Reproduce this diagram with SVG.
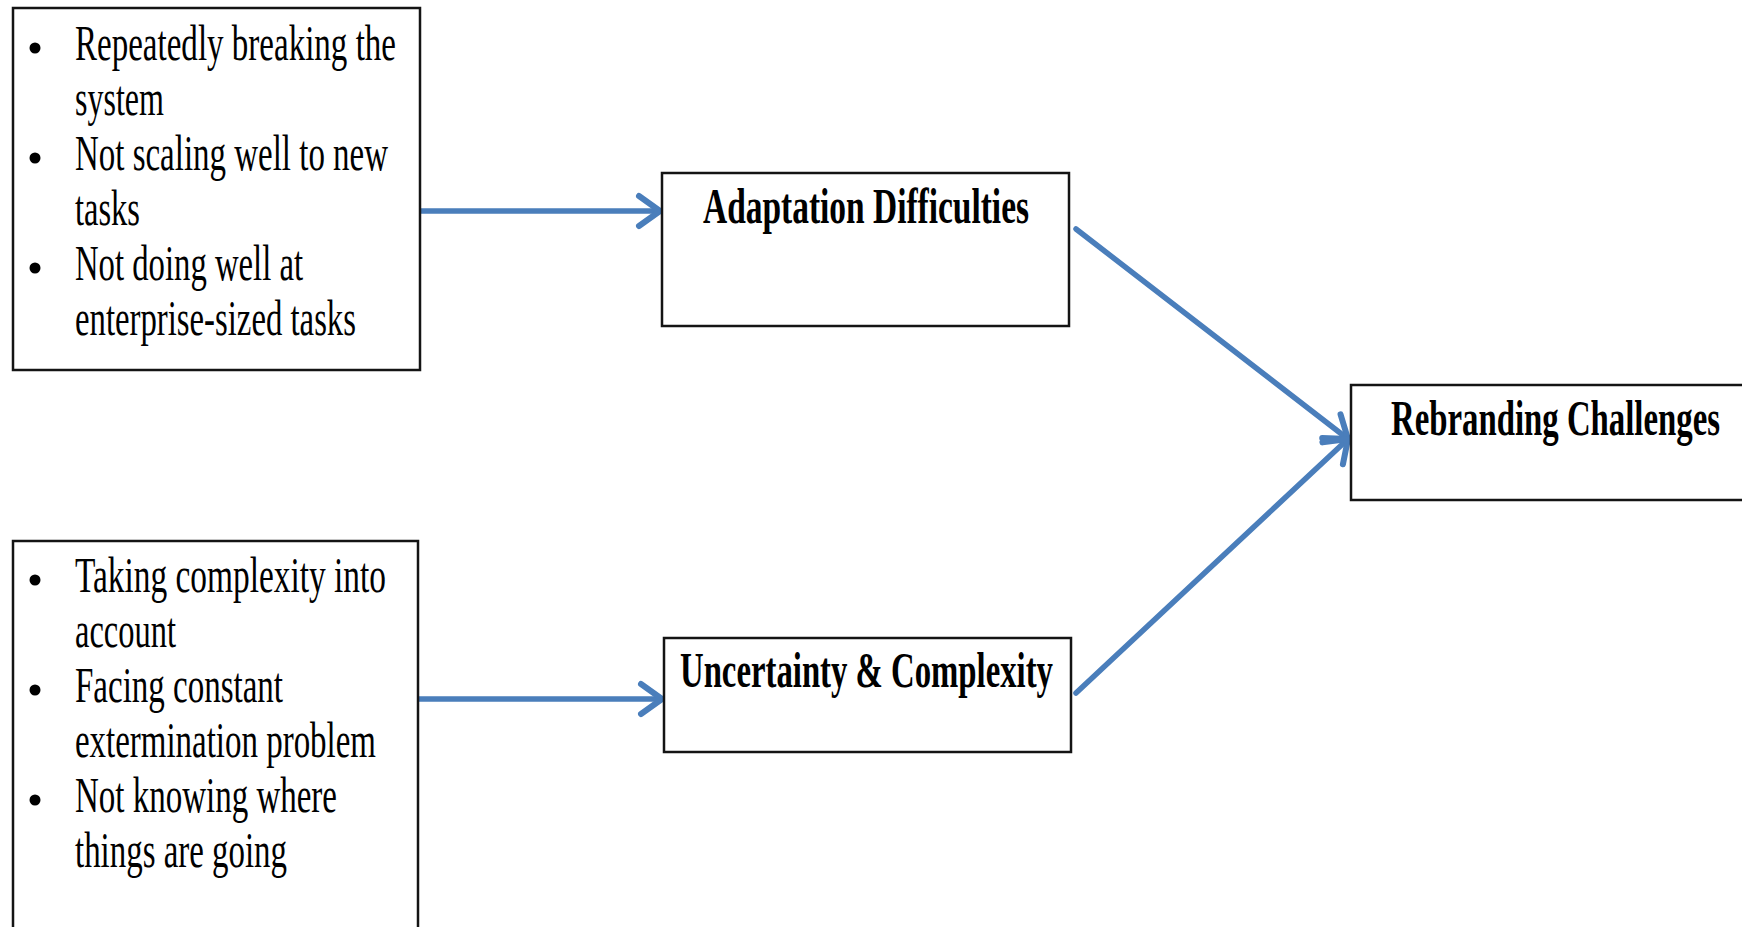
<svg xmlns="http://www.w3.org/2000/svg" width="1742" height="927" viewBox="0 0 1742 927">
  <style>
    .box { fill: #ffffff; stroke: #141414; stroke-width: 2.5; }
    .item { font-family: "Liberation Serif", "Times New Roman", serif; font-size: 50px; fill: #000000; }
    .title { font-family: "Liberation Serif", "Times New Roman", serif; font-size: 50px; font-weight: bold; fill: #000000; }
    .bullet { fill: #000000; }
    .link { fill: none; stroke: #4a7ebb; stroke-width: 5.5; stroke-linecap: round; }
  </style>
  <defs>
    <marker id="chevron" markerUnits="userSpaceOnUse" viewBox="-26 -20 30 40" refX="0" refY="0" markerWidth="30" markerHeight="40" orient="auto">
      <path d="M-21,-15 L0,0 L-21,15" fill="none" stroke="#4a7ebb" stroke-width="6" stroke-linecap="round" stroke-linejoin="round"/>
    </marker>
  </defs>
  <rect width="1742" height="927" fill="#ffffff"/>

  <!-- connectors -->
  <g id="connectors">
    <line class="link" x1="421" y1="211" x2="660" y2="211" marker-end="url(#chevron)"/>
    <line class="link" x1="419" y1="699" x2="662" y2="699" marker-end="url(#chevron)"/>
    <line class="link" x1="1076" y1="229" x2="1348" y2="439" marker-end="url(#chevron)"/>
    <line class="link" x1="1076" y1="693" x2="1348" y2="439" marker-end="url(#chevron)"/>
  </g>

  <!-- causes of adaptation difficulties -->
  <g id="node-adaptation-causes">
    <rect class="box" x="13" y="8" width="407" height="362"/>
    <circle class="bullet" cx="35" cy="48" r="5.5"/>
    <circle class="bullet" cx="35" cy="158" r="5.5"/>
    <circle class="bullet" cx="35" cy="268" r="5.5"/>
    <text class="item" x="75" y="60" textLength="321" lengthAdjust="spacingAndGlyphs">Repeatedly breaking the</text>
    <text class="item" x="75" y="115" textLength="89" lengthAdjust="spacingAndGlyphs">system</text>
    <text class="item" x="75" y="170" textLength="313" lengthAdjust="spacingAndGlyphs">Not scaling  well to new</text>
    <text class="item" x="75" y="225" textLength="65" lengthAdjust="spacingAndGlyphs">tasks</text>
    <text class="item" x="75" y="280" textLength="228" lengthAdjust="spacingAndGlyphs">Not doing well at</text>
    <text class="item" x="75" y="335" textLength="281" lengthAdjust="spacingAndGlyphs">enterprise-sized tasks</text>
  </g>

  <!-- causes of uncertainty and complexity -->
  <g id="node-uncertainty-causes">
    <rect class="box" x="13" y="541" width="405" height="400"/>
    <circle class="bullet" cx="35" cy="580" r="5.5"/>
    <circle class="bullet" cx="35" cy="690" r="5.5"/>
    <circle class="bullet" cx="35" cy="800" r="5.5"/>
    <text class="item" x="75" y="592" textLength="311" lengthAdjust="spacingAndGlyphs">Taking complexity into</text>
    <text class="item" x="75" y="647" textLength="101" lengthAdjust="spacingAndGlyphs">account</text>
    <text class="item" x="75" y="702" textLength="208" lengthAdjust="spacingAndGlyphs">Facing constant</text>
    <text class="item" x="75" y="757" textLength="301" lengthAdjust="spacingAndGlyphs">extermination problem</text>
    <text class="item" x="75" y="812" textLength="262" lengthAdjust="spacingAndGlyphs">Not knowing where</text>
    <text class="item" x="75" y="867" textLength="212" lengthAdjust="spacingAndGlyphs">things are going</text>
  </g>

  <g id="node-adaptation">
    <rect class="box" x="662" y="173" width="407" height="153"/>
    <text class="title" x="703" y="223" textLength="326" lengthAdjust="spacingAndGlyphs">Adaptation Difficulties</text>
  </g>

  <g id="node-uncertainty">
    <rect class="box" x="664" y="638" width="407" height="114"/>
    <text class="title" x="680" y="687" textLength="373" lengthAdjust="spacingAndGlyphs">Uncertainty &amp; Complexity</text>
  </g>

  <g id="node-rebranding">
    <rect class="box" x="1351" y="385" width="400" height="115"/>
    <text class="title" x="1391" y="435" textLength="329" lengthAdjust="spacingAndGlyphs">Rebranding Challenges</text>
  </g>
</svg>
